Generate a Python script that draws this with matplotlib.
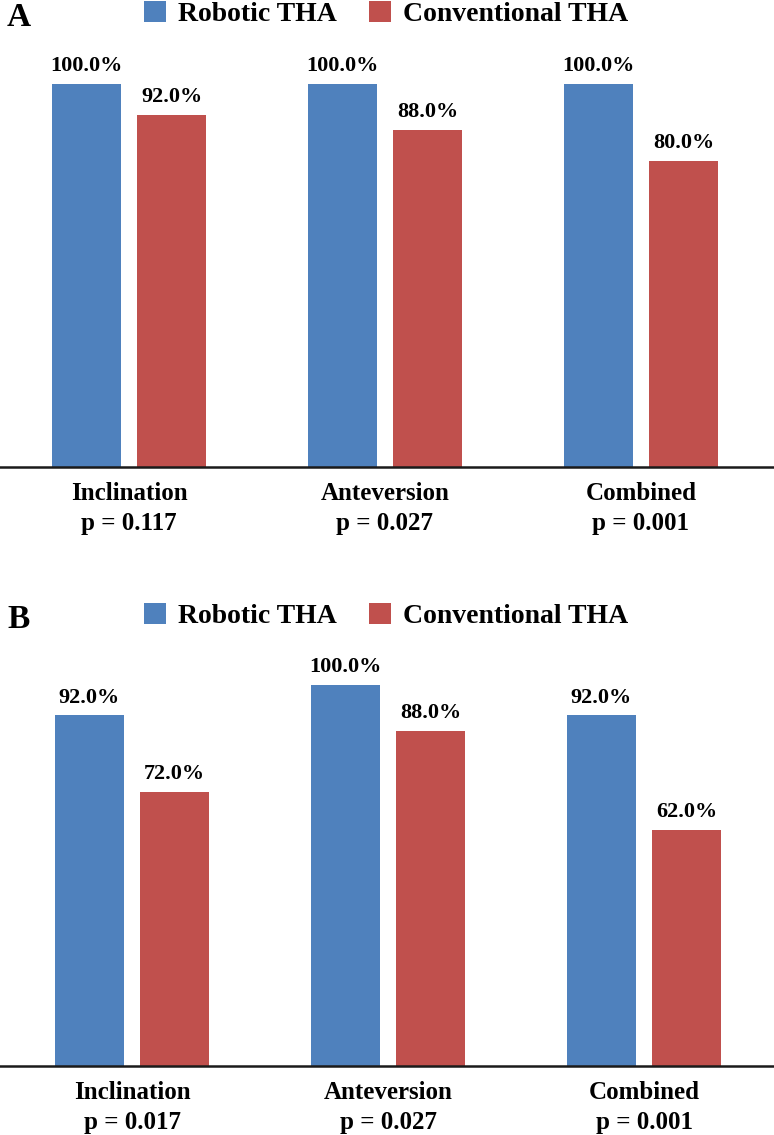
import matplotlib
matplotlib.use("Agg")
import matplotlib.pyplot as plt
import numpy as np

plt.rcParams['font.family'] = ['Liberation Serif', 'DejaVu Serif']
plt.rcParams['font.weight'] = 'bold'

categories = ['Inclination', 'Anteversion', 'Combined']
p_values_a = ['p = 0.117', 'p = 0.027', 'p = 0.001']
p_values_b = ['p = 0.017', 'p = 0.027', 'p = 0.001']
robotic_a = [100.0, 100.0, 100.0]
conventional_a = [92.0, 88.0, 80.0]
robotic_b = [92.0, 100.0, 92.0]
conventional_b = [72.0, 88.0, 62.0]

BLUE = '#4F81BD'
RED = '#C0504D'
W, H = 774, 1135

fig = plt.figure(figsize=(W / 100, H / 100), dpi=100)


def panel(letter, robotic, conventional, pvals, axis_y, legend_y, x0, scale):
    # axis_y: pixel row of the baseline, scale: pixels per 100 %
    top_px = legend_y + 25
    ax = fig.add_axes([0, (H - axis_y) / H, 1, (axis_y - top_px) / H])
    ax.set_ylim(0, (axis_y - top_px) / scale * 100)
    ax.set_xlim(-x0 / 256, (W - x0) / 256)

    x = np.arange(len(categories))
    b1 = ax.bar(x - 0.167, robotic, 0.27, color=BLUE, label='Robotic THA', clip_on=False)
    b2 = ax.bar(x + 0.167, conventional, 0.27, color=RED, label='Conventional THA', clip_on=False)
    for bars in (b1, b2):
        for r in bars:
            ax.annotate('%.1f%%' % r.get_height(), (r.get_x() + r.get_width() / 2, r.get_height()),
                        xytext=(0, 12.8), textcoords='offset points', ha='center', va='center',
                        fontsize=16, fontweight='bold')

    for s in ['top', 'right', 'left']:
        ax.spines[s].set_visible(False)
    ax.spines['bottom'].set_linewidth(1.8)
    ax.spines['bottom'].set_color('#1a1a1a')
    ax.set_yticks([])
    ax.set_xticks(x)
    ax.set_xticklabels([c + '\n' + p for c, p in zip(categories, pvals)],
                       fontsize=18, fontweight='bold', linespacing=1.38)
    ax.tick_params(axis='x', length=0, pad=11)

    ax.legend(handles=[b1, b2], loc='center left', ncol=2, frameon=False,
              bbox_to_anchor=(144 / W, 1 - (legend_y + 1) / H), bbox_transform=fig.transFigure,
              borderpad=0, borderaxespad=0, handlelength=0.79, handleheight=0.79,
              handletextpad=0.43, columnspacing=1.15,
              prop={'size': 20, 'weight': 'bold'})
    fig.text(7 / W, 1 - (legend_y + 4) / H, letter, fontsize=24, fontweight='bold',
             ha='left', va='center')
    return ax


panel('A', robotic_a, conventional_a, p_values_a, 467, 13, 129, 383)
panel('B', robotic_b, conventional_b, p_values_b, 1066, 615, 132, 381)

fig.savefig('out.png', dpi=100)
